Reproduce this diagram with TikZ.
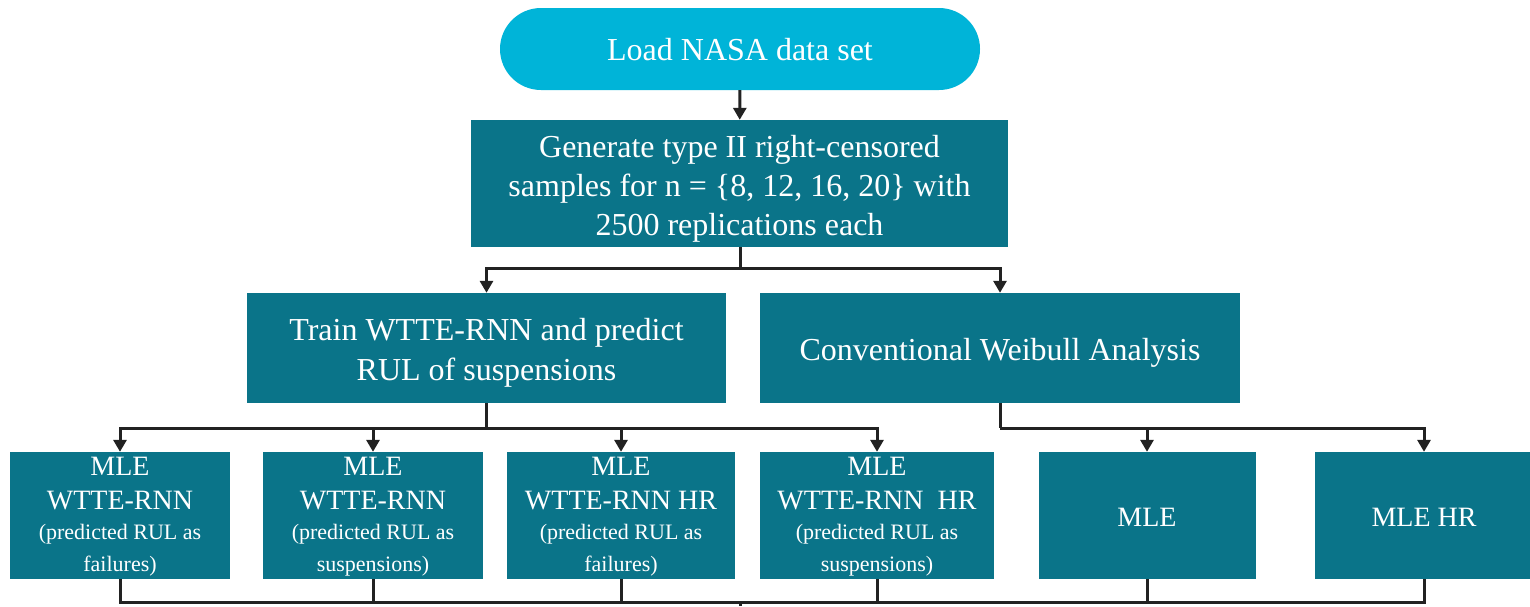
\documentclass[tikz,border=0pt]{standalone}
\usepackage{fontspec}
\setmainfont{Liberation Serif}
\usetikzlibrary{arrows.meta,calc}
\definecolor{pill}{HTML}{00B4D8}
\definecolor{teal}{HTML}{0A7489}
\definecolor{wire}{HTML}{222222}
\newcommand\bigtxt{\fontsize{32}{39}\selectfont}
\newcommand\midtxt{\fontsize{28}{34}\selectfont}
\newcommand\smalltxt{\fontsize{22}{30}\selectfont}
\begin{document}
\begin{tikzpicture}[x=1pt,y=-1pt,
  box/.style={fill=teal,inner sep=0pt,anchor=center},
  txt/.style={text=white,align=center,inner sep=0pt,anchor=center},
  wirestyle/.style={draw=wire,line width=3pt},
  arr/.style={wirestyle,-{Triangle[width=13pt,length=12pt]}}]
\useasboundingbox (0,0) rectangle (1530,606);

% start node
\node[box,fill=pill,minimum width=480pt,minimum height=82pt,rounded corners=41pt]
  (load) at (740,49) {};
\node[txt,font=\bigtxt] (loadtxt) at ($(load)+(0,1)$) {Load NASA data set};

% sample generation
\node[box,minimum width=537pt,minimum height=127pt] (gen) at (739.5,183.5) {};
\node[txt,font=\bigtxt] (gentxt) at ($(gen)+(0,5)$)
  {Generate type II right-censored\\samples for n = \{8, 12, 16, 20\} with\\2500 replications each};

% two branches
\node[box,minimum width=479pt,minimum height=110pt] (train) at (486.5,348) {};
\node[txt,font=\fontsize{32}{40}\selectfont] (traintxt) at ($(train)+(0,5)$)
  {Train WTTE-RNN and predict\\RUL of suspensions};
\node[box,minimum width=480pt,minimum height=110pt] (conv) at (1000,348) {};
\node[txt,font=\bigtxt] (convtxt) at ($(conv)+(0,5)$) {Conventional Weibull Analysis};

% estimators
\node[box,minimum width=220pt,minimum height=127pt] (b1) at (120,515.5) {};
\node[txt,font=\midtxt] (b1txt) at ($(b1)+(0,1)$)
  {MLE\\WTTE-RNN\\[-4pt]\smalltxt (predicted RUL as\\[-2pt]\smalltxt failures)};
\node[box,minimum width=220pt,minimum height=127pt] (b2) at (373,515.5) {};
\node[txt,font=\midtxt] (b2txt) at ($(b2)+(0,1)$)
  {MLE\\WTTE-RNN\\[-4pt]\smalltxt (predicted RUL as\\[-2pt]\smalltxt suspensions)};
\node[box,minimum width=228pt,minimum height=127pt] (b3) at (621,515.5) {};
\node[txt,font=\midtxt] (b3txt) at ($(b3)+(0,1)$)
  {MLE\\WTTE-RNN HR\\[-4pt]\smalltxt (predicted RUL as\\[-2pt]\smalltxt failures)};
\node[box,minimum width=234pt,minimum height=127pt] (b4) at (877,515.5) {};
\node[txt,font=\midtxt] (b4txt) at ($(b4)+(0,1)$)
  {MLE\\WTTE-RNN\ \ HR\\[-4pt]\smalltxt (predicted RUL as\\[-2pt]\smalltxt suspensions)};
\node[box,minimum width=217pt,minimum height=127pt] (b5) at (1147,515.5) {};
\node[txt,font=\midtxt] (b5txt) at ($(b5)+(0,2)$) {MLE};
\node[box,minimum width=218pt,minimum height=127pt] (b6) at (1424,515.5) {};
\node[txt,font=\midtxt] (b6txt) at ($(b6)+(0,2)$) {MLE HR};

% junction points
\coordinate (j1) at (740,268);
\coordinate (j2) at (486,428);
\coordinate (j3) at (1000,428);
\coordinate (j4) at (740,602);
\coordinate (out) at (740,606);

% connectors
\draw[arr] (load) -- (gen);
\draw[wirestyle] (gen.south -| j1) -- (j1);
\draw[arr] (j1) -| (train);
\draw[arr] (j1) -| (conv);

\draw[wirestyle] (train.south -| j2) -- (j2);
\draw[arr] (j2) -| (b1);
\draw[arr] (j2) -| (b2);
\draw[arr] (j2) -| (b3);
\draw[arr] (j2) -| (b4);

\draw[wirestyle] (conv.south) -- (j3);
\draw[arr] (j3) -| (b5);
\draw[arr] (j3) -| (b6);

% collecting bus
\draw[wirestyle] (b1.south) |- (j4);
\draw[wirestyle] (b2.south) |- (j4);
\draw[wirestyle] (b3.south) |- (j4);
\draw[wirestyle] (b4.south) |- (j4);
\draw[wirestyle] (b5.south) |- (j4);
\draw[wirestyle] (b6.south) |- (j4);
\draw[wirestyle] (j4) -- (out);
\end{tikzpicture}
\end{document}
